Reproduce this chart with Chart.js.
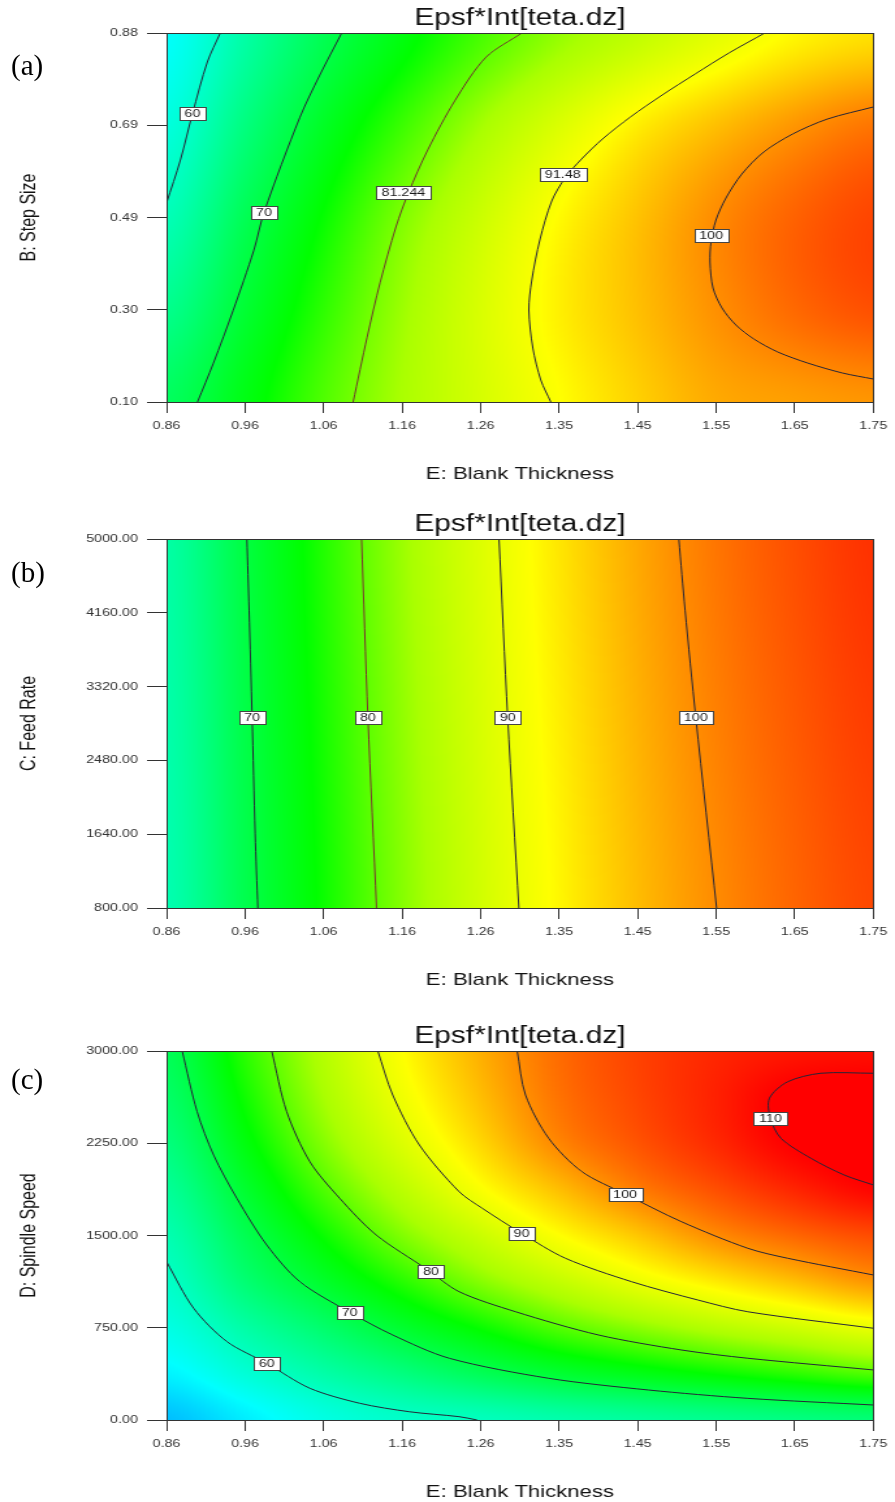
<!DOCTYPE html>
<html>
<head>
<meta charset="utf-8">
<title>Epsf*Int[teta.dz] contour plots</title>
<script src="https://cdn.jsdelivr.net/npm/chart.js@4.4.1/dist/chart.umd.min.js"></script>
<style>
  html, body { margin: 0; padding: 0; background: #fff; }
  body { position: relative; width: 895px; height: 1502px; overflow: hidden; }
  canvas { position: absolute; left: 0; }
  .tag { position: absolute; left: 11px; font: 29px 'Liberation Serif', 'Times New Roman', serif; line-height: 1; color: #000; }
</style>
</head>
<body>
<canvas id="plotA" width="688" height="490" style="top:0px;width:895px;height:490px"></canvas>
<canvas id="plotB" width="688" height="490" style="top:506px;width:895px;height:490px"></canvas>
<canvas id="plotC" width="688" height="490" style="top:1018px;width:895px;height:490px"></canvas>
<div class="tag" style="top:51px">(a)</div>
<div class="tag" style="top:558px">(b)</div>
<div class="tag" style="top:1065px">(c)</div>
<script>

// shared x axis: E: Blank Thickness
const blankThickness = [0.86, 0.9589, 1.0578, 1.1567, 1.2556, 1.3544, 1.4533, 1.5522, 1.6511, 1.75];
const blankThicknessLabels = ['0.86', '0.96', '1.06', '1.16', '1.26', '1.35', '1.45', '1.55', '1.65', '1.75'];

// (a) B: Step Size
const stepSize = [0.10, 0.295, 0.49, 0.685, 0.88];
const stepSizeLabels = ['0.10', '0.30', '0.49', '0.69', '0.88'];
// response at blankThickness (columns) x stepSize (rows, bottom to top)
const responseA = [
  [67.7, 73.5, 79.2, 84.1, 88.1, 91.9, 95.2, 97.9, 98.7, 99.3],
  [64.0, 71.0, 77.4, 83.3, 88.4, 93.0, 96.4, 99.7, 102.5, 104.3],
  [60.6, 68.4, 75.3, 81.7, 87.1, 92.2, 96.2, 100.0, 103.0, 105.1],
  [57.6, 65.1, 72.1, 78.1, 83.7, 88.6, 93.1, 96.4, 99.3, 101.6],
  [55.2, 62.0, 68.5, 73.8, 78.7, 82.8, 86.1, 89.4, 92.4, 94.0]
];
const contoursA = [
  { level: '60', x: [0.9277, 0.9114, 0.8926, 0.8775, 0.86],
    y: [0.88, 0.8187, 0.709, 0.6115, 0.5207] },
  { level: '70', x: [1.0806, 1.053, 1.028, 0.983, 0.970, 0.944, 0.919, 0.899],
    y: [0.88, 0.791, 0.702, 0.502, 0.421, 0.294, 0.182, 0.10] },
  { level: '81.244', x: [1.3075, 1.2624, 1.2235, 1.1890, 1.1646, 1.1489, 1.1289, 1.1126, 1.0950],
    y: [0.88, 0.829, 0.738, 0.633, 0.542, 0.470, 0.352, 0.237, 0.10] },
  { level: '91.48', x: [1.6134, 1.5682, 1.5256, 1.4842, 1.4441, 1.4090, 1.3827, 1.3627, 1.3451, 1.3301, 1.3200, 1.3163, 1.3213, 1.3313, 1.3439],
    y: [0.88, 0.8377, 0.7933, 0.7489, 0.7024, 0.6559, 0.6137, 0.5756, 0.5249, 0.4424, 0.3579, 0.2945, 0.2141, 0.1465, 0.10] },
  { level: '100', x: [1.75, 1.6923, 1.6485, 1.6121, 1.5845, 1.5645, 1.5519, 1.5457, 1.5444, 1.5482, 1.5595, 1.5770, 1.5996, 1.6297, 1.6673, 1.7111, 1.75],
    y: [0.7236, 0.6982, 0.6665, 0.6285, 0.5819, 0.5312, 0.4847, 0.4382, 0.3959, 0.3410, 0.2987, 0.2628, 0.2332, 0.2057, 0.1824, 0.1613, 0.1486] }
];
const labelsA = [['60', 0.8926, 0.709], ['70', 0.9828, 0.5016], ['81.244', 1.1583, 0.542],
                 ['91.48', 1.3590, 0.580], ['100', 1.5457, 0.453]];

// (b) C: Feed Rate
const feedRate = [800, 1640, 2480, 3320, 4160, 5000];
const feedRateLabels = ['800.00', '1640.00', '2480.00', '3320.00', '4160.00', '5000.00'];
const feedRateRows = [800, 2900, 5000];
const responseB = [
  [61.1, 68.9, 75.6, 82.05, 87.65, 92.5, 96.6, 100.0, 102.8, 104.9],
  [61.6, 69.4, 76.2, 82.65, 88.25, 93.1, 97.3, 100.8, 103.6, 105.7],
  [62.1, 69.9, 76.8, 83.25, 88.85, 93.7, 98.0, 101.6, 104.4, 106.5]
];
const contoursB = [
  { level: '70', x: [0.9612, 0.964, 0.9678, 0.9716, 0.975], y: [5000, 4190, 2968, 1645, 800] },
  { level: '80', x: [1.1056, 1.1136, 1.1245], y: [5000, 2968, 800] },
  { level: '90', x: [1.2787, 1.2896, 1.3037], y: [5000, 2968, 800] },
  { level: '100', x: [1.5051, 1.513, 1.5265, 1.5527], y: [5000, 4190, 2968, 800] }
];
const labelsB = [['70', 0.9678, 2968], ['80', 1.1136, 2968], ['90', 1.2896, 2968], ['100', 1.5265, 2968]];

// (c) D: Spindle Speed
const spindleSpeed = [0, 750, 1500, 2250, 3000];
const spindleSpeedLabels = ['0.00', '750.00', '1500.00', '2250.00', '3000.00'];
const spindleRows = [0, 375, 750, 1125, 1500, 1875, 2250, 2625, 3000];
const responseC = [
  [49.5, 53.5, 57.1, 59.2, 60.1, 61.5, 62.7, 63.8, 64.8, 65.7],
  [54.0, 58.1, 61.8, 65.0, 68.2, 71.0, 73.2, 75.2, 77.2, 79.2],
  [57.1, 62.0, 66.6, 71.3, 75.4, 79.4, 82.4, 85.1, 87.5, 90.0],
  [59.3, 66.0, 71.6, 77.0, 82.1, 86.3, 90.2, 93.4, 96.4, 99.3],
  [61.1, 68.6, 75.5, 81.8, 87.0, 91.9, 95.9, 100.0, 102.7, 104.6],
  [63.1, 71.3, 79.1, 85.6, 91.6, 96.5, 101.1, 104.4, 107.4, 109.7],
  [65.2, 73.9, 82.0, 88.7, 94.7, 100.4, 104.0, 107.1, 110.2, 111.0],
  [66.9, 75.8, 83.9, 90.7, 96.5, 101.8, 105.0, 107.7, 110.5, 110.9],
  [68.2, 77.2, 85.0, 91.9, 97.5, 102.3, 105.3, 107.3, 108.5, 109.0]
];
const contoursC = [
  { level: '60', x: [0.86, 0.8942, 0.9361, 0.9862, 1.0405, 1.1032, 1.1659, 1.2285, 1.2511],
    y: [1287, 908, 637, 461, 258, 136, 67, 27, 0] },
  { level: '70', x: [0.8797, 0.8985, 0.9193, 0.9486, 0.9862, 1.0280, 1.0906, 1.1449, 1.2160, 1.3413, 1.4667, 1.5920, 1.75],
    y: [3000, 2507, 2154, 1802, 1423, 1124, 876, 691, 502, 339, 244, 176, 122] },
  { level: '80', x: [0.9925, 1.0113, 1.0405, 1.0781, 1.1241, 1.1880, 1.2285, 1.2996, 1.4040, 1.5085, 1.5920, 1.75],
    y: [3000, 2507, 2100, 1802, 1504, 1225, 1043, 880, 691, 569, 502, 407] },
  { level: '90', x: [1.1261, 1.1449, 1.1784, 1.2285, 1.2577, 1.3071, 1.3623, 1.4458, 1.5294, 1.5920, 1.75],
    y: [3000, 2642, 2236, 1856, 1721, 1518, 1315, 1124, 975, 880, 746] },
  { level: '100', x: [1.3016, 1.3121, 1.3413, 1.3831, 1.4375, 1.5085, 1.5920, 1.6422, 1.75],
    y: [3000, 2642, 2290, 2019, 1837, 1612, 1396, 1315, 1179] },
  { level: '110', x: [1.75, 1.6839, 1.6422, 1.6193, 1.6205, 1.6338, 1.6714, 1.7133, 1.75],
    y: [2819, 2819, 2750, 2616, 2453, 2290, 2128, 1992, 1911] }
];
const labelsC = [['60', 0.9862, 461], ['70', 1.0906, 876], ['80', 1.1931, 1211],
                 ['90', 1.3071, 1518], ['100', 1.4375, 1837], ['110', 1.6205, 2453]];

// ---- styling ----
const SANS = "'Liberation Sans', Arial, Helvetica, sans-serif";
const AXIS = '#333';
const LINE = '#262638';

// Design-Expert style colour ramp: blue - cyan - green - yellow - red
const COLOR_STOPS = [
  [46, [0, 150, 255]],
  [55, [0, 255, 255]],
  [65, [0, 255, 128]],
  [75, [0, 255, 0]],
  [84, [170, 255, 0]],
  [92, [255, 255, 0]],
  [100, [255, 140, 0]],
  [110, [255, 0, 0]]
];

function colorFor(z) {
  if (z <= COLOR_STOPS[0][0]) return COLOR_STOPS[0][1];
  for (let k = 1; k < COLOR_STOPS.length; k++) {
    const [z1, c1] = COLOR_STOPS[k];
    if (z <= z1) {
      const [z0, c0] = COLOR_STOPS[k - 1];
      const t = (z - z0) / (z1 - z0);
      return [c0[0] + (c1[0] - c0[0]) * t, c0[1] + (c1[1] - c0[1]) * t, c0[2] + (c1[2] - c0[2]) * t];
    }
  }
  return COLOR_STOPS[COLOR_STOPS.length - 1][1];
}

// Catmull-Rom smoothing between the read grid nodes (render only)
function cubic(p0, p1, p2, p3, t) {
  return p1 + 0.5 * t * (p2 - p0 + t * (2 * p0 - 5 * p1 + 4 * p2 - p3 + t * (3 * (p1 - p2) + p3 - p0)));
}

function locate(axis, v) {
  let i = 0;
  while (i < axis.length - 2 && v > axis[i + 1]) i++;
  const t = Math.min(1, Math.max(0, (v - axis[i]) / (axis[i + 1] - axis[i])));
  return [i, t];
}

function sampleGrid(gx, gy, z, xv, yv) {
  const [i, tx] = locate(gx, xv);
  const [j, ty] = locate(gy, yv);
  const ci = k => Math.min(gx.length - 1, Math.max(0, k));
  const cj = k => Math.min(gy.length - 1, Math.max(0, k));
  const row = r => {
    const R = z[cj(r)];
    return cubic(R[ci(i - 1)], R[i], R[i + 1], R[ci(i + 2)], tx);
  };
  return cubic(row(j - 1), row(j), row(j + 1), row(j + 2), ty);
}

function heatmapPlugin(gridY, response) {
  return {
    id: 'heatmap',
    beforeDatasetsDraw(chart) {
      const { ctx, chartArea: a, scales: { x, y } } = chart;
      const w = Math.round(a.right - a.left);
      const h = Math.round(a.bottom - a.top);
      const img = ctx.createImageData(w, h);
      for (let j = 0; j < h; j++) {
        const yv = y.getValueForPixel(a.top + j + 0.5);
        for (let i = 0; i < w; i++) {
          const xv = x.getValueForPixel(a.left + i + 0.5);
          const c = colorFor(sampleGrid(blankThickness, gridY, response, xv, yv));
          const k = (j * w + i) * 4;
          img.data[k] = c[0];
          img.data[k + 1] = c[1];
          img.data[k + 2] = c[2];
          img.data[k + 3] = 255;
        }
      }
      ctx.putImageData(img, Math.round(a.left), Math.round(a.top));
    }
  };
}

function contourLabelPlugin(items) {
  return {
    id: 'contourLabels',
    afterDatasetsDraw(chart) {
      const { ctx, scales: { x, y } } = chart;
      ctx.save();
      ctx.font = '11px ' + SANS;
      ctx.textAlign = 'center';
      ctx.textBaseline = 'middle';
      items.forEach(([text, xv, yv]) => {
        const px = x.getPixelForValue(xv);
        const py = y.getPixelForValue(yv);
        const w = Math.round(ctx.measureText(text).width) + 8;
        const h = 13;
        const bx = Math.round(px - w / 2) + 0.5;
        const by = Math.round(py - h / 2) + 0.5;
        ctx.fillStyle = '#fff';
        ctx.fillRect(bx, by, w, h);
        ctx.strokeStyle = '#444';
        ctx.lineWidth = 1;
        ctx.strokeRect(bx, by, w, h);
        ctx.fillStyle = '#1a1a1a';
        ctx.fillText(text, px, py + 0.5);
      });
      ctx.restore();
    }
  };
}

function contourPanel(canvasId, p) {
  const yMin = p.yTicks[0];
  const yMax = p.yTicks[p.yTicks.length - 1];
  const tickFont = { family: SANS, size: 11 };

  return new Chart(document.getElementById(canvasId), {
    type: 'line',
    data: {
      datasets: p.contours.map(c => ({
        label: c.level,
        data: c.x.map((xv, i) => ({ x: xv, y: c.y[i] })),
        borderColor: (p.lineColors && p.lineColors[c.level]) || LINE,
        borderWidth: 1,
        pointRadius: 0,
        tension: 0.3,
        fill: false
      }))
    },
    options: {
      responsive: false,
      animation: false,
      events: [],
      layout: { padding: 0 },
      plugins: {
        legend: { display: false },
        tooltip: { enabled: false }
      },
      scales: {
        x: {
          type: 'linear',
          position: 'bottom',
          min: 0.86,
          max: 1.75,
          afterBuildTicks: s => { s.ticks = blankThickness.map(v => ({ value: v })); },
          afterFit: s => { s.height = 88; },
          ticks: {
            callback: (v, i) => blankThicknessLabels[i],
            font: tickFont, color: AXIS, padding: 6, maxRotation: 0, autoSkip: false
          },
          grid: { drawOnChartArea: false, tickLength: 11, color: AXIS },
          border: { color: AXIS, z: 1 },
          title: {
            display: true, text: 'E: Blank Thickness', color: '#111',
            font: { family: SANS, size: 17 }, padding: { top: 0, bottom: 5 }
          }
        },
        xTop: {
          type: 'linear',
          position: 'top',
          display: true,
          min: 0.86,
          max: 1.75,
          afterFit: s => { s.height = 33; },
          ticks: { display: false },
          grid: { display: false, drawTicks: false },
          border: { display: true, color: AXIS, z: 1 },
          title: {
            display: true, text: 'Epsf*Int[teta.dz]', color: '#111',
            font: { family: SANS, size: 23 }, padding: { top: 5, bottom: 0 }
          }
        },
        y: {
          type: 'linear',
          position: 'left',
          min: yMin,
          max: yMax,
          afterBuildTicks: s => { s.ticks = p.yTicks.map(v => ({ value: v })); },
          afterFit: s => { s.width = 128; },
          ticks: {
            callback: (v, i) => p.yLabels[i],
            font: tickFont, color: AXIS, padding: 7, autoSkip: false
          },
          grid: { drawOnChartArea: false, tickLength: 15, color: AXIS },
          border: { color: AXIS, z: 1 },
          title: {
            display: true, text: p.yTitle, color: '#111',
            font: { family: SANS, size: 16 }, padding: { top: 13, bottom: 0 }
          }
        },
        yRight: {
          type: 'linear',
          position: 'right',
          display: true,
          min: yMin,
          max: yMax,
          afterFit: s => { s.width = 15; },
          ticks: { display: false },
          grid: { display: false, drawTicks: false },
          border: { display: true, color: AXIS, z: 1 }
        }
      }
    },
    plugins: [heatmapPlugin(p.gridY, p.response), contourLabelPlugin(p.labels)]
  });
}

contourPanel('plotA', {
  yTitle: 'B: Step Size', yTicks: stepSize, yLabels: stepSizeLabels,
  gridY: stepSize, response: responseA, contours: contoursA, labels: labelsA,
  lineColors: { '81.244': '#6e3a2c' }
});

contourPanel('plotB', {
  yTitle: 'C: Feed Rate', yTicks: feedRate, yLabels: feedRateLabels,
  gridY: feedRateRows, response: responseB, contours: contoursB, labels: labelsB,
  lineColors: { '80': '#7a3530' }
});

contourPanel('plotC', {
  yTitle: 'D: Spindle Speed', yTicks: spindleSpeed, yLabels: spindleSpeedLabels,
  gridY: spindleRows, response: responseC, contours: contoursC, labels: labelsC
});
</script>
</body>
</html>
